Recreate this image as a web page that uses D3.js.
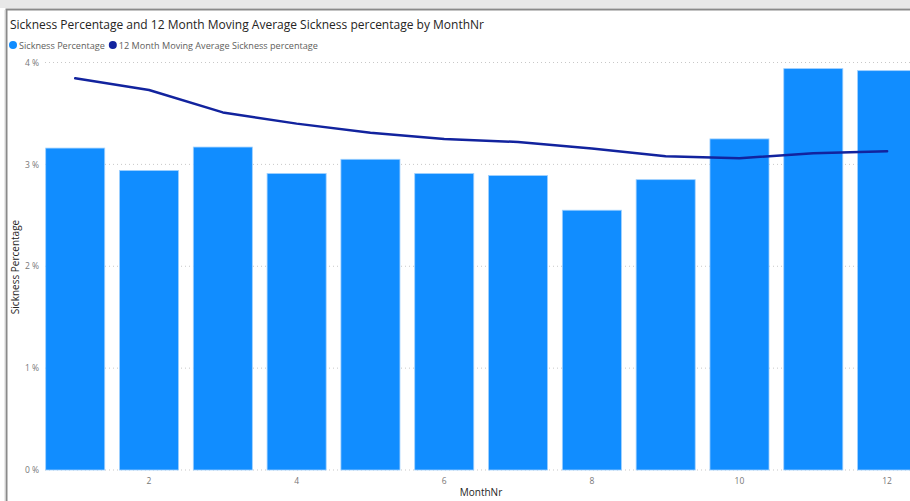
<!DOCTYPE html>
<html>
<head>
<meta charset="utf-8">
<script src="https://cdn.jsdelivr.net/npm/d3@7/dist/d3.min.js"></script>
<style>
  html, body { margin: 0; padding: 0; background: #fff; overflow: hidden; }
  svg { display: block; }
</style>
</head>
<body>
<script>
// Monthly sickness data
const months = [1, 2, 3, 4, 5, 6, 7, 8, 9, 10, 11, 12];
const sicknessPct = [3.16, 2.94, 3.17, 2.91, 3.05, 2.91, 2.89, 2.55, 2.85, 3.25, 3.94, 3.92];
const movingAvgPct = [3.845, 3.73, 3.51, 3.40, 3.31, 3.25, 3.22, 3.155, 3.08, 3.06, 3.11, 3.13];
const yTicks = [0, 1, 2, 3, 4];
const xTickMonths = [2, 4, 6, 8, 10, 12];

const W = 910, H = 501;
const svg = d3.select("body").append("svg").attr("width", W).attr("height", H);

// Frame around the visual
svg.append("rect").attr("x", 0).attr("y", 0).attr("width", W).attr("height", 8).attr("fill", "#e8e8e8");
svg.append("rect").attr("x", 6.5).attr("y", 9.5).attr("width", W).attr("height", H + 10)
  .attr("fill", "none").attr("stroke", "#8a8a8a").attr("stroke-width", 2);
svg.append("line").attr("x1", 5).attr("x2", 5).attr("y1", 10).attr("y2", H)
  .attr("stroke", "#d6d6d6").attr("stroke-width", 1);

const font = "'Segoe UI', 'Open Sans', 'DejaVu Sans', sans-serif";

// Title
svg.append("text").attr("x", 10).attr("y", 29)
  .attr("font-family", font).attr("font-size", 12).attr("fill", "#252423")
  .text("Sickness Percentage and 12 Month Moving Average Sickness percentage by MonthNr");

// Legend
const legend = [
  { label: "Sickness Percentage", color: "#118DFF" },
  { label: "12 Month Moving Average Sickness percentage", color: "#12239E" }
];
let lx = 13;
legend.forEach(d => {
  svg.append("circle").attr("cx", lx).attr("cy", 45).attr("r", 4).attr("fill", d.color);
  const t = svg.append("text").attr("x", lx + 6).attr("y", 48.5)
    .attr("font-family", font).attr("font-size", 9.1).attr("fill", "#605E5C").text(d.label);
  lx += 6 + t.node().getComputedTextLength() + 8;
});

// Scales
const x = d3.scaleBand().domain(months).range([38.3, 924]).paddingInner(0.2).paddingOuter(0.1);
const y = d3.scaleLinear().domain([0, 4]).range([470, 62.5]);

// Gridlines (dotted)
svg.append("g").selectAll("line").data(yTicks).join("line")
  .attr("x1", 45).attr("x2", W).attr("y1", d => y(d)).attr("y2", d => y(d))
  .attr("stroke", "#c8c8c8").attr("stroke-width", 1).attr("stroke-dasharray", "1,3");

// Y axis labels
const yAxis = d3.axisLeft(y).tickValues(yTicks).tickSize(0).tickPadding(0).tickFormat(d => d + " %");
const gy = svg.append("g").attr("transform", "translate(39,0)").call(yAxis);
gy.select(".domain").remove();
gy.selectAll("text").attr("font-family", font).attr("font-size", 8.5).attr("fill", "#777");

// Y axis title
svg.append("text").attr("transform", "translate(19,267) rotate(-90)")
  .attr("text-anchor", "middle").attr("font-family", font).attr("font-size", 10).attr("fill", "#252423")
  .text("Sickness Percentage");

// Bars
svg.append("g").selectAll("rect").data(months).join("rect")
  .attr("x", (d) => x(d))
  .attr("width", x.bandwidth())
  .attr("y", (d, i) => y(sicknessPct[i]))
  .attr("height", (d, i) => y(0) - y(sicknessPct[i]))
  .attr("fill", "#118DFF")
  .attr("stroke", "#9fd0ff").attr("stroke-width", 0.8);

// X axis
const xAxis = d3.axisBottom(x).tickValues(xTickMonths).tickSize(0).tickPadding(0);
const gx = svg.append("g").attr("transform", "translate(0,476)").call(xAxis);
gx.select(".domain").remove();
gx.selectAll("text").attr("font-family", font).attr("font-size", 8.5).attr("fill", "#777").attr("dy", "0.9em");

svg.append("text").attr("x", 481).attr("y", 496).attr("text-anchor", "middle")
  .attr("font-family", font).attr("font-size", 10).attr("fill", "#252423").text("MonthNr");

// Moving average line
const line = d3.line()
  .x((d, i) => x(months[i]) + x.bandwidth() / 2)
  .y(d => y(d));
svg.append("path").datum(movingAvgPct).attr("d", line)
  .attr("fill", "none").attr("stroke", "#12239E").attr("stroke-width", 2.5)
  .attr("stroke-linejoin", "round").attr("stroke-linecap", "round");
</script>
</body>
</html>
